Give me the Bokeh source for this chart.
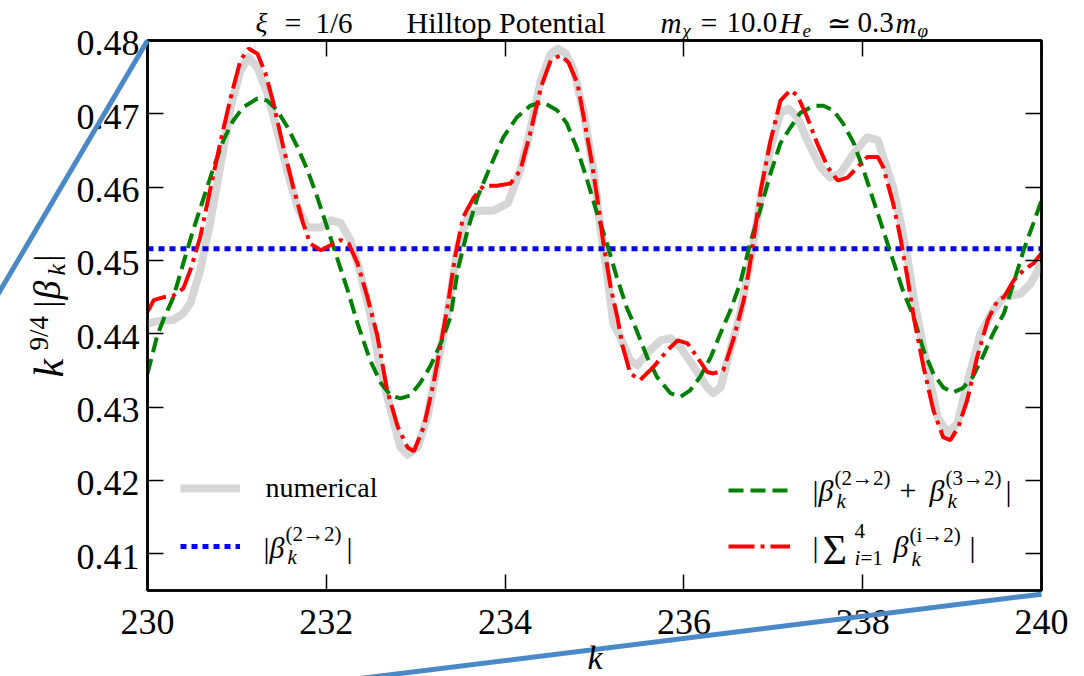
import math
from bokeh.plotting import figure
from bokeh.models import (Range1d, LinearAxis, FixedTicker, CustomJSTickFormatter,
                          Legend, LegendItem, ColumnDataSource)
from bokeh.core.properties import value
from bokeh.embed import file_html
from bokeh.resources import INLINE

# ---------------- data ----------------
k_numerical = [230.00, 230.15, 230.29, 230.40, 230.48, 230.59, 230.70, 230.82, 230.93, 231.04,
               231.13, 231.23, 231.34, 231.45, 231.57, 231.68, 231.79, 231.94, 232.05, 232.16,
               232.27, 232.38, 232.49, 232.60, 232.72, 232.83, 232.91, 233.02, 233.13, 233.24,
               233.35, 233.47, 233.58, 233.69, 233.87, 234.03, 234.17, 234.28, 234.40, 234.51,
               234.59, 234.68, 234.77, 234.88, 234.99, 235.07, 235.15, 235.21, 235.29, 235.40,
               235.48, 235.59, 235.74, 235.85, 235.96, 236.11, 236.26, 236.33, 236.41, 236.52,
               236.63, 236.74, 236.86, 236.97, 237.08, 237.17, 237.27, 237.38, 237.53, 237.64,
               237.75, 237.90, 238.05, 238.17, 238.23, 238.34, 238.42, 238.50, 238.57, 238.72,
               238.84, 238.95, 239.06, 239.17, 239.32, 239.46, 239.58, 239.77, 239.88, 240.00]
numerical = [0.4414, 0.4418, 0.4419, 0.4428, 0.4442, 0.4487, 0.4551, 0.4632, 0.4709, 0.4759,
             0.4777, 0.4763, 0.4728, 0.4677, 0.4619, 0.4572, 0.4545, 0.4545, 0.4555, 0.4551,
             0.4528, 0.4483, 0.4428, 0.4355, 0.4296, 0.4245, 0.4235, 0.4245, 0.4286, 0.4355,
             0.4423, 0.4518, 0.4559, 0.4568, 0.4568, 0.4578, 0.4623, 0.4677, 0.4746, 0.4782,
             0.4789, 0.4782, 0.4759, 0.4701, 0.4623, 0.4541, 0.4473, 0.4414, 0.4395, 0.4364,
             0.4357, 0.4374, 0.4391, 0.4394, 0.4382, 0.4355, 0.4327, 0.4319, 0.4327, 0.4378,
             0.4428, 0.4496, 0.4586, 0.4654, 0.4701, 0.4707, 0.4695, 0.4664, 0.4627, 0.4613,
             0.4619, 0.4646, 0.4668, 0.4664, 0.4641, 0.4600, 0.4555, 0.4504, 0.4450, 0.4355,
             0.4286, 0.4265, 0.4278, 0.4333, 0.4401, 0.4432, 0.4450, 0.4455, 0.4469, 0.4496]

k_beta22 = [230.0, 240.0]
beta22 = [0.4516, 0.4516]

k_beta22_32 = [230.00, 230.11, 230.18, 230.29, 230.40, 230.51, 230.63, 230.74, 230.85, 230.96,
               231.07, 231.23, 231.34, 231.45, 231.57, 231.68, 231.79, 231.90, 232.01, 232.12,
               232.24, 232.35, 232.49, 232.61, 232.72, 232.83, 232.94, 233.05, 233.16, 233.28,
               233.39, 233.47, 233.58, 233.69, 233.83, 233.98, 234.13, 234.28, 234.42, 234.58,
               234.69, 234.80, 234.91, 235.02, 235.14, 235.25, 235.36, 235.47, 235.59, 235.70,
               235.85, 235.96, 236.07, 236.18, 236.30, 236.41, 236.52, 236.63, 236.74, 236.86,
               236.97, 237.08, 237.19, 237.30, 237.45, 237.56, 237.67, 237.78, 237.90, 238.01,
               238.12, 238.23, 238.34, 238.45, 238.57, 238.68, 238.79, 238.90, 239.01, 239.12,
               239.23, 239.34, 239.46, 239.58, 239.69, 239.80, 239.91, 240.00]
beta22_32 = [0.4346, 0.4398, 0.4420, 0.4450, 0.4496, 0.4541, 0.4586, 0.4627, 0.4664, 0.4691,
             0.4709, 0.4721, 0.4718, 0.4705, 0.4681, 0.4654, 0.4623, 0.4586, 0.4545, 0.4504,
             0.4459, 0.4414, 0.4364, 0.4333, 0.4316, 0.4312, 0.4316, 0.4333, 0.4355, 0.4387,
             0.4423, 0.4487, 0.4541, 0.4586, 0.4627, 0.4668, 0.4695, 0.4711, 0.4716, 0.4705,
             0.4687, 0.4654, 0.4613, 0.4568, 0.4523, 0.4477, 0.4436, 0.4405, 0.4368, 0.4341,
             0.4319, 0.4314, 0.4323, 0.4341, 0.4368, 0.4401, 0.4432, 0.4469, 0.4523, 0.4572,
             0.4619, 0.4660, 0.4681, 0.4701, 0.4711, 0.4711, 0.4705, 0.4687, 0.4660, 0.4623,
             0.4582, 0.4541, 0.4500, 0.4459, 0.4423, 0.4378, 0.4346, 0.4327, 0.4320, 0.4326,
             0.4341, 0.4368, 0.4401, 0.4428, 0.4470, 0.4514, 0.4551, 0.4582]

k_sum = [230.00, 230.07, 230.18, 230.29, 230.40, 230.48, 230.59, 230.70, 230.82, 230.93,
         231.04, 231.13, 231.23, 231.32, 231.41, 231.52, 231.63, 231.74, 231.82, 231.94,
         232.05, 232.16, 232.25, 232.35, 232.46, 232.57, 232.68, 232.80, 232.91, 232.98,
         233.09, 233.20, 233.28, 233.36, 233.44, 233.53, 233.65, 233.76, 233.91, 234.06,
         234.17, 234.28, 234.40, 234.51, 234.62, 234.71, 234.81, 234.88, 234.96, 235.03,
         235.10, 235.18, 235.26, 235.31, 235.40, 235.51, 235.66, 235.82, 235.93, 236.04,
         236.15, 236.26, 236.33, 236.44, 236.55, 236.67, 236.74, 236.86, 236.97, 237.08,
         237.19, 237.27, 237.38, 237.49, 237.61, 237.72, 237.83, 237.94, 238.05, 238.17,
         238.23, 238.34, 238.42, 238.50, 238.57, 238.68, 238.79, 238.90, 238.98, 239.07,
         239.17, 239.28, 239.40, 239.51, 239.58, 239.69, 239.80, 239.91, 240.00]
beta_sum = [0.4430, 0.4446, 0.4450, 0.4452, 0.4462, 0.4487, 0.4532, 0.4596, 0.4664, 0.4722,
            0.4773, 0.4789, 0.4782, 0.4755, 0.4714, 0.4654, 0.4600, 0.4551, 0.4523, 0.4514,
            0.4521, 0.4528, 0.4523, 0.4496, 0.4450, 0.4398, 0.4323, 0.4273, 0.4245, 0.4240,
            0.4273, 0.4333, 0.4385, 0.4440, 0.4505, 0.4559, 0.4586, 0.4602, 0.4602, 0.4605,
            0.4623, 0.4673, 0.4736, 0.4773, 0.4780, 0.4770, 0.4741, 0.4695, 0.4641, 0.4586,
            0.4523, 0.4464, 0.4420, 0.4385, 0.4346, 0.4337, 0.4355, 0.4378, 0.4391, 0.4387,
            0.4368, 0.4348, 0.4346, 0.4350, 0.4391, 0.4446, 0.4496, 0.4596, 0.4664, 0.4718,
            0.4732, 0.4725, 0.4695, 0.4660, 0.4627, 0.4609, 0.4613, 0.4627, 0.4641, 0.4641,
            0.4627, 0.4578, 0.4532, 0.4477, 0.4423, 0.4355, 0.4296, 0.4259, 0.4255, 0.4273,
            0.4310, 0.4368, 0.4419, 0.4446, 0.4450, 0.4473, 0.4487, 0.4496, 0.4510]

# stray straight stroke that crosses the page
overlay_k = [230.00, 225.28, 240.00]
overlay_v = [0.4800, 0.3823, 0.4045]

x_ticks = [230, 232, 234, 236, 238, 240]
y_ticks = [0.41, 0.42, 0.43, 0.44, 0.45, 0.46, 0.47, 0.48]
x_tick_labels = ["230", "232", "234", "236", "238", "240"]
y_tick_labels = ["0.41", "0.42", "0.43", "0.44", "0.45", "0.46", "0.47", "0.48"]

# ---------------- layout constants ----------------
W, H = 1084, 676
FL, FT, FW, FH = 147, 40, 894, 550
X0, X1, Y0, Y1 = 230.0, 240.0, 0.405, 0.48
SERIF = "Liberation Serif"
DY = (Y1 - Y0) / FH   # data units per pixel (vertical)
LIFT = 0.31           # raise texts by this fraction of their size to sit on the wanted baseline


def px_x(px):
    return X0 + (px - FL) * (X1 - X0) / FW


def px_y(py):
    return Y1 - (py - FT) * DY


p = figure(width=W, height=H, output_backend="svg", toolbar_location=None,
           x_range=Range1d(X0, X1), y_range=Range1d(Y0, Y1),
           min_border_left=FL, min_border_right=W - FL - FW,
           min_border_top=FT, min_border_bottom=H - FT - FH)
p.grid.visible = False
p.outline_line_color = "black"
p.outline_line_width = 2.5
p.background_fill_color = "white"
p.border_fill_color = "white"


def style_axis(ax, ticker):
    ax.ticker = FixedTicker(ticks=ticker)
    ax.formatter = CustomJSTickFormatter(code="return ''")
    ax.major_tick_in = 16
    ax.major_tick_out = 0
    ax.minor_tick_in = 0
    ax.minor_tick_out = 0
    ax.major_tick_line_width = 1.5
    ax.major_tick_line_color = "black"
    ax.axis_line_width = 2.5
    ax.axis_line_color = "black"
    ax.major_label_standoff = 0


style_axis(p.xaxis[0], x_ticks)
style_axis(p.yaxis[0], y_ticks)
top_ax = LinearAxis()
style_axis(top_ax, x_ticks)
p.add_layout(top_ax, "above")
right_ax = LinearAxis()
style_axis(right_ax, y_ticks)
p.add_layout(right_ax, "right")

# tick labels, placed at the tick values through the plot's scales
TS = 36
p.text(x=x_ticks, y=[px_y(633 - LIFT * TS)] * len(x_ticks), text=x_tick_labels,
       text_font=value(SERIF), text_font_size=f"{TS}px", text_color="black",
       text_align="center", text_baseline="alphabetic", level="annotation")
p.text(x=[px_x(139)] * len(y_ticks), y=[t - (14 - LIFT * TS) * DY for t in y_ticks],
       text=y_tick_labels,
       text_font=value(SERIF), text_font_size=f"{TS}px", text_color="black",
       text_align="right", text_baseline="alphabetic", level="annotation")

# ---------------- curves ----------------
r_num = p.line(k_numerical, numerical, line_color="#d6d6d6", line_width=8, line_join="round")
r_b22 = p.line(k_beta22, beta22, line_color="blue", line_width=5, line_dash="6 5")
r_b23 = p.line(k_beta22_32, beta22_32, line_color="green", line_width=4, line_dash="15 7")
r_sum = p.line(k_sum, beta_sum, line_color="red", line_width=4, line_dash="26 6 4 6")

p.line(overlay_k, overlay_v, line_color="#4a88c7", line_width=5, level="annotation")

# ---------------- legends (samples; texts typeset below) ----------------
leg_common = dict(padding=0, margin=0, border_line_color=None, background_fill_alpha=0,
                  label_text_font=SERIF, label_text_font_size="28px",
                  glyph_height=32, label_height=32)
leg_left = Legend(items=[LegendItem(label=value(""), renderers=[r_num]),
                         LegendItem(label=value(""), renderers=[r_b22])],
                  location=(33, 28), glyph_width=60, label_standoff=25, spacing=26,
                  **leg_common)
leg_right = Legend(items=[LegendItem(label=value(""), renderers=[r_b23]),
                          LegendItem(label=value(""), renderers=[r_sum])],
                   location=(581, 28), glyph_width=62, label_standoff=22, spacing=24,
                   **leg_common)
p.add_layout(leg_left, "center")
p.add_layout(leg_right, "center")

# ---------------- typeset texts (text, x px, baseline px, size, italic, angle) ----
R = math.pi / 2
pieces = [
    # title
    ("ξ", 255, 31, 28, True, 0), ("=", 284, 31, 30, False, 0), ("1/6", 315, 31, 29, False, 0),
    ("Hilltop Potential", 406, 31, 30, False, 0),
    ("m", 660, 31, 29, True, 0), ("χ", 682, 36, 19, True, 0), ("=", 700, 31, 30, False, 0),
    ("10.0", 726, 31, 29, False, 0), ("H", 779, 31, 30, True, 0), ("e", 802, 36, 19, True, 0),
    ("≃", 826, 31, 29, False, 0), ("0.3", 857, 31, 29, False, 0), ("m", 895, 31, 29, True, 0),
    ("φ", 917, 36, 19, True, 0),
    # left legend
    ("numerical", 265, 496, 28, False, 0),
    ("|", 263, 556, 30, False, 0), ("β", 269, 556, 30, True, 0), ("(2→2)", 285, 540, 21, False, 0),
    ("k", 287, 563, 21, True, 0), ("|", 346, 556, 30, False, 0),
    # right legend, 1st entry
    ("|", 812, 499, 30, False, 0), ("β", 818, 499, 30, True, 0), ("(2→2)", 834, 484, 21, False, 0),
    ("k", 836, 507, 21, True, 0), ("+", 899, 499, 30, False, 0), ("β", 929, 499, 30, True, 0),
    ("(3→2)", 945, 484, 21, False, 0), ("k", 947, 507, 21, True, 0), ("|", 1005, 499, 30, False, 0),
    # right legend, 2nd entry
    ("|", 812, 555, 30, False, 0), ("Σ", 822, 563, 42, False, 0), ("4", 854, 537, 21, False, 0),
    ("i", 854, 564, 21, True, 0), ("=1", 860, 564, 21, False, 0), ("β", 893, 555, 30, True, 0),
    ("(i→2)", 909, 541, 21, False, 0), ("k", 911, 565, 21, True, 0), ("|", 969, 555, 30, False, 0),
    # x axis label
    ("k", 587, 668, 34, True, 0),
    # y axis label (rotated, reads upward)
    ("k", 62, 377, 42, True, R), ("9/4", 47, 350, 27, False, R), ("|", 57, 307, 34, False, R),
    ("β", 58, 299, 38, True, R), ("k", 64, 275, 26, True, R), ("|", 57, 261, 34, False, R),
]
xs, ys = [], []
for t in pieces:
    txt, px, py, size, it, ang = t
    if ang == 0:
        py = py - LIFT * size
    else:
        px = px - LIFT * size
    xs.append(px_x(px))
    ys.append(px_y(py))
src = ColumnDataSource(dict(
    x=xs, y=ys,
    text=[t[0] for t in pieces],
    size=[f"{t[3]}px" for t in pieces],
    style=["italic" if t[4] else "normal" for t in pieces],
    angle=[t[5] for t in pieces],
))
p.text(x="x", y="y", text="text", angle="angle", source=src,
       text_font=value(SERIF), text_font_size="size", text_font_style="style",
       text_color="black", text_align="left", text_baseline="alphabetic",
       level="annotation")

open("out.html", "w").write(file_html(p, INLINE))
